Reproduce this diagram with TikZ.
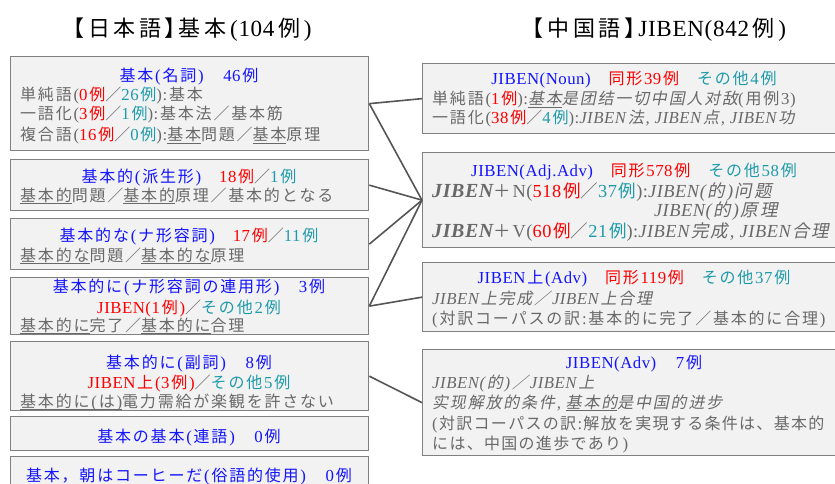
\documentclass[tikz,border=0pt]{standalone}
\usepackage{fontspec}
\setmainfont{Liberation Serif}
\newfontfamily\latfont{Liberation Serif}[Scale=1.05,LetterSpace=3]
\newfontfamily\jpfont{Noto Sans CJK JP}[ItalicFont={Noto Sans CJK JP},ItalicFeatures={FakeSlant=0.2}]
\newdimen\cjkk \cjkk=1.8pt
\XeTeXinterchartokenstate=1
\newXeTeXintercharclass\CJKc
\newcount\tmpc
\def\setcjkrange#1#2{\tmpc=#1\relax\loop\XeTeXcharclass\tmpc=\CJKc\advance\tmpc 1\relax\ifnum\tmpc<#2\repeat}
\setcjkrange{"3000}{"3100}
\setcjkrange{"4E00}{"A000}
\setcjkrange{"FF00}{"FFF0}
\XeTeXinterchartoks 0 \CJKc = {\kern\cjkk\jpfont}
\XeTeXinterchartoks 4095 \CJKc = {\jpfont}
\XeTeXinterchartoks \CJKc 0 = {\kern\cjkk\latfont}
\XeTeXinterchartoks 4095 0 = {\latfont}
\XeTeXinterchartoks \CJKc \CJKc = {\kern\cjkk}
\definecolor{boxfill}{RGB}{242,242,242}
\definecolor{boxline}{RGB}{128,128,128}
\definecolor{connc}{RGB}{85,85,85}
\definecolor{headblue}{RGB}{20,20,255}
\definecolor{exred}{RGB}{255,0,0}
\definecolor{exteal}{RGB}{30,155,170}
\definecolor{txtgray}{RGB}{105,105,105}
\newcommand\cred{\color{exred}}
\newcommand\cteal{\color{exteal}}
\newcommand\cgray{\color{txtgray}}
\newcommand\ulx[1]{\setbox0=\hbox{\jpfont#1}\rlap{\rule[-2.8pt]{\wd0}{0.9pt}}\box0\jpfont}
\newcommand\jbn{{\fontsize{19}{20}\selectfont\bfseries\itshape JIBEN}}
\newcommand\wideK{\global\cjkk=3.6pt\relax}
\newcommand\normK{\global\cjkk=1.8pt\relax}
\newcommand\tightK{\global\cjkk=1.3pt\relax}
\tikzset{
 box/.style={draw=boxline, fill=boxfill, line width=1.3pt, rectangle, inner sep=0pt, anchor=north west},
 ttl/.style={font=\fontsize{22}{26}\selectfont, anchor=base, inner sep=0pt, text=black},
 hd/.style={font=\fontsize{16}{19}\selectfont, anchor=base, inner sep=0pt, text=headblue},
 ln/.style={font=\fontsize{16}{19}\selectfont, anchor=base west, inner sep=0pt, text=txtgray},
 lnb/.style={ln, font=\fontsize{17.5}{19}\selectfont},
 conn/.style={draw=connc, line width=1.6pt},
}
\begin{document}
\begin{tikzpicture}[x=1pt,y=-1pt]
\useasboundingbox (0,0) rectangle (835,484);
\clip (0,0) rectangle (835,484);
% titles
\node[ttl] (t1) at (187,37) {\wideK【日本語】\kern-8pt 基本(104例)};
\node[ttl] (t2) at (654,37) {\wideK【中国語】\kern-8pt JIBEN(842例)\normK};
% left boxes
\node[box, minimum width=358pt, minimum height=94pt] (b1) at (10,56) {};
\node[box, minimum width=358pt, minimum height=51pt] (b2) at (10,159) {};
\node[box, minimum width=358pt, minimum height=51pt] (b3) at (10,218) {};
\node[box, minimum width=358pt, minimum height=57pt] (b4) at (10,277) {};
\node[box, minimum width=358pt, minimum height=69pt] (b5) at (10,341) {};
\node[box, minimum width=358pt, minimum height=34pt] (b6) at (10,416) {};
\node[box, minimum width=358pt, minimum height=50pt] (b7) at (10,456) {};
% right boxes
\node[box, minimum width=424pt, minimum height=70pt] (r1) at (422,63) {};
\node[box, minimum width=424pt, minimum height=95pt] (r2) at (422,152) {};
\node[box, minimum width=424pt, minimum height=69pt] (r3) at (422,262) {};
\node[box, minimum width=424pt, minimum height=106pt] (r4) at (422,349) {};
% connectors
\draw[conn] (b1.east) -- (r1.west);
\draw[conn] (b1.east) -- (r2.west);
\draw[conn] (b2.east) -- (r2.west);
\draw[conn] (b3.east) -- (r2.west);
\draw[conn] (b4.east) -- (r2.west);
\draw[conn] (b4.east) -- (r3.west);
\draw[conn] (b5.east) -- (r4.west);
% box 1
\node[hd] (b1h) at (189,82) {基本(名詞)　46例};
\node[ln] (b1a) at (20,101) {単純語(\cred 0例\cgray／\cteal 26例\cgray):基本};
\node[ln] (b1b) at (20,120) {一語化(\cred 3例\cgray／\cteal 1例\cgray):基本法／基本筋};
\node[ln] (b1c) at (20,141) {複合語(\cred 16例\cgray／\cteal 0例\cgray):\ulx{基本}問題／\ulx{基本}原理};
% box 2
\node[hd] (b2h) at (189,182) {基本的(派生形)　\cred 18例\cgray／\cteal 1例};
\node[ln] (b2a) at (20,201) {\ulx{基本的}問題／\ulx{基本的}原理／基本的となる};
% box 3
\node[hd] (b3h) at (189,241) {基本的な(ナ形容詞)　\cred 17例\cgray／\cteal 11例};
\node[ln] (b3a) at (20,261) {\ulx{基本的な}問題／\ulx{基本的な}原理};
% box 4
\node[hd] (b4h) at (189,292) {基本的に(ナ形容詞の連用形)　3例};
\node[hd] (b4s) at (189,313) {\cred JIBEN(1例)\cgray／\cteal その他2例};
\node[ln] (b4a) at (20,331) {\ulx{基本的に}完了／\ulx{基本的に}合理};
% box 5
\node[hd] (b5h) at (189,368) {基本的に(副詞)　8例};
\node[hd] (b5s) at (189,388) {\cred JIBEN上(3例)\cgray／\cteal その他5例};
\node[ln] (b5a) at (20,407) {\ulx{基本的に(は)}電力需給が楽観を許さない};
% box 6, 7
\node[hd] (b6h) at (189,442) {基本の基本(連語)　0例};
\node[hd] (b7h) at (189,481) {基本，朝はコーヒーだ(俗語的使用)　0例};
% right box 1
\node[hd] (r1h) at (634,85) {JIBEN(Noun)　\cred 同形39例　\cteal その他4例};
\node[ln] (r1a) at (432,105) {単純語(\cred 1例\cgray):\itshape\ulx{基本}是团结一切中国人对敌\upshape(用例3)};
\node[ln] (r1b) at (432,124) {一語化(\cred 38例\cgray／\cteal 4例\cgray):\itshape JIBEN法, JIBEN点, JIBEN功};
% right box 2
\node[hd] (r2h) at (634,176) {JIBEN(Adj.Adv)　\cred 同形578例　\cteal その他58例};
\node[lnb] (r2a) at (432,197) {\jbn＋N(\cred 518例\cgray／\cteal 37例\cgray):\itshape JIBEN(的)问题};
\node[lnb] (r2b) at (432,216) {\hphantom{\jbn＋N(518例／37例):}\itshape JIBEN(的)原理};
\node[lnb] (r2c) at (432,237) {\jbn＋V(\cred 60例\cgray／\cteal 21例\cgray):\itshape JIBEN完成, JIBEN合理};
% right box 3
\node[hd] (r3h) at (634,283) {JIBEN上(Adv)　\cred 同形119例　\cteal その他37例};
\node[ln] (r3a) at (432,304) {\itshape JIBEN上完成／JIBEN上合理};
\node[ln] (r3b) at (432,324) {(対訳コーパスの訳:基本的に完了／基本的に合理)};
% right box 4
\node[hd] (r4h) at (634,368) {JIBEN(Adv)　7例};
\node[ln] (r4a) at (432,388) {\itshape JIBEN(的)／JIBEN上};
\node[ln] (r4b) at (432,408) {\itshape 实现解放的条件, \ulx{基本的}是中国的进步};
\node[ln] (r4c) at (432,429) {\tightK(対訳コーパスの訳:解放を実現する条件は、基本的};
\node[ln] (r4d) at (432,449) {には、中国の進歩であり)\normK};
\end{tikzpicture}
\end{document}
